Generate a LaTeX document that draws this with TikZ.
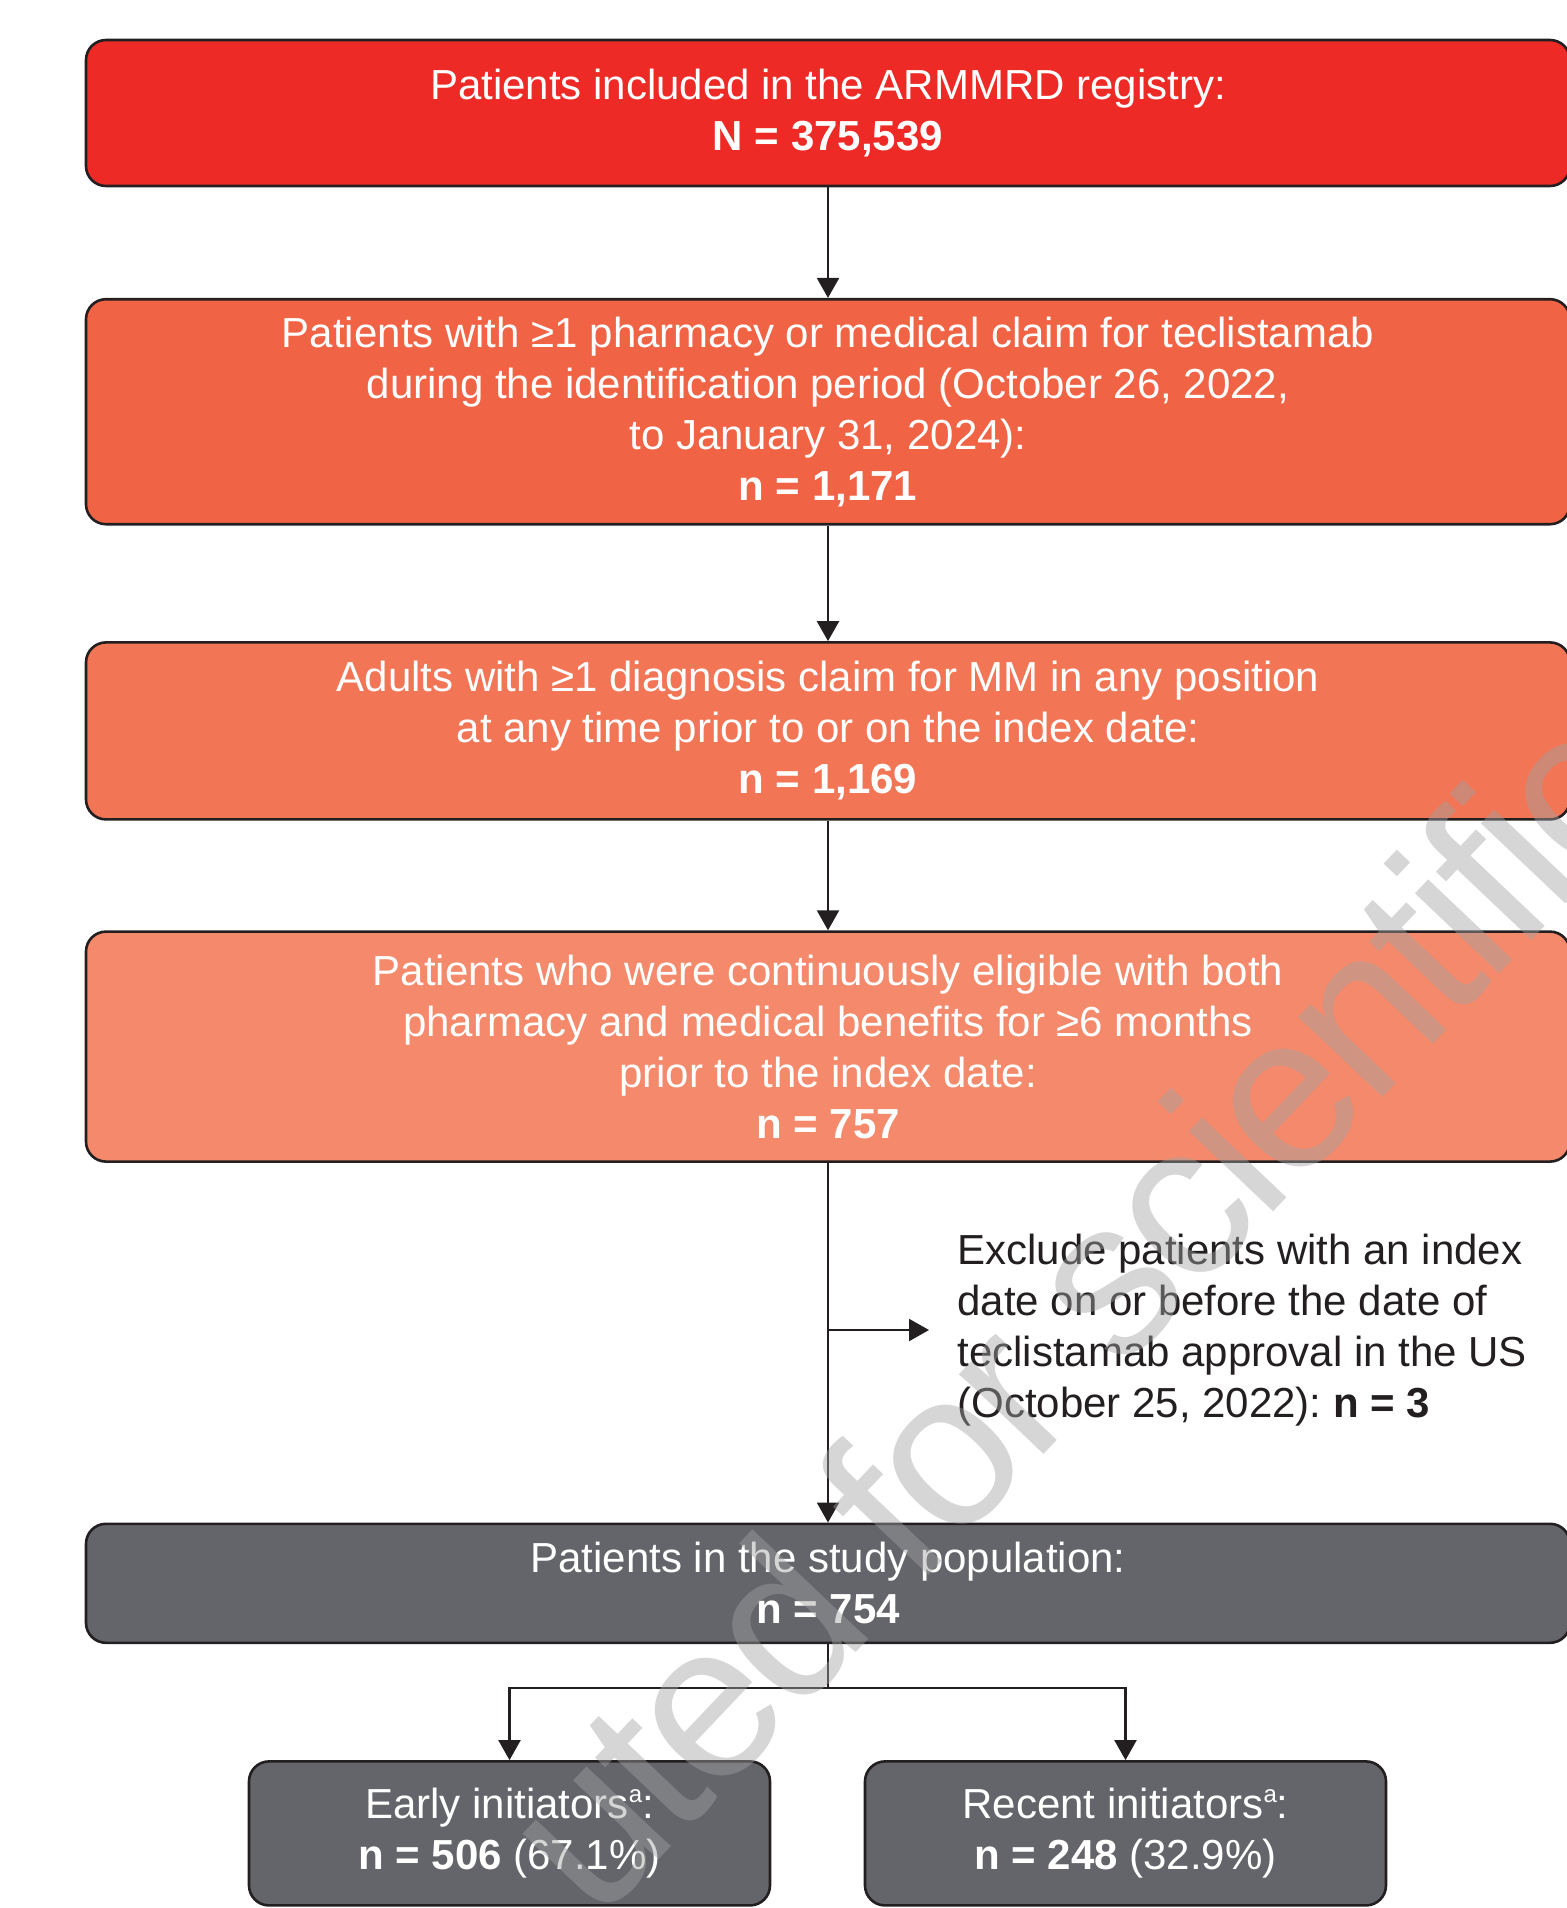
\documentclass[tikz,border=0pt]{standalone}
\usepackage{fontspec}
\setmainfont{Liberation Sans}
\newfontfamily\wmfont{Liberation Sans}[LetterSpace=-3]
\usetikzlibrary{positioning,arrows.meta}
\frenchspacing
\definecolor{regred}{RGB}{237,42,37}
\definecolor{claimor}{RGB}{241,99,69}
\definecolor{diagor}{RGB}{242,117,86}
\definecolor{eligor}{RGB}{244,138,107}
\definecolor{popgray}{RGB}{100,101,106}
\definecolor{edge}{RGB}{35,31,32}
\definecolor{wmgray}{RGB}{161,161,161}
\newcommand{\supa}{\raisebox{0.75ex}{\fontsize{12pt}{12pt}\selectfont a}}

\begin{document}
\begin{tikzpicture}[
  x=0.5pt, y=-0.5pt,
  >={Triangle[width=11pt,length=10pt]},
  node distance=57.5pt and 10pt,
  box/.style={rectangle, rounded corners=10pt, draw=edge, line width=1.3pt, text=white, align=center, inner sep=0pt, minimum width=742pt, font=\fontsize{21pt}{25.5pt}\selectfont},
  sub/.style={box, minimum width=260.5pt, minimum height=72pt, fill=popgray},
  note/.style={align=left, text=edge, inner sep=0pt, font=\fontsize{21pt}{25.5pt}\selectfont},
  link/.style={->, draw=edge, line width=1.1pt},
  wm/.style={text=wmgray, text opacity=0.44, inner sep=0pt, font=\wmfont\fontsize{110pt}{110pt}\selectfont}
]
\useasboundingbox (0,0) rectangle (1567,1908);
\node[box, fill=regred, minimum height=73pt] (reg) at (828,113) {Patients included in the ARMMRD registry:\\ \textbf{N = 375,539}};
\node[box, fill=claimor, minimum height=112.5pt, below=55.3pt of reg] (claim) {Patients with ≥1 pharmacy or medical claim for teclistamab\\ during the identification period (October 26, 2022,\\ to January 31, 2024):\\ \textbf{n = 1,171}};
\node[box, fill=diagor, minimum height=88.5pt, below=57.8pt of claim] (diag) {Adults with ≥1 diagnosis claim for MM in any position\\ at any time prior to or on the index date:\\ \textbf{n = 1,169}};
\node[box, fill=eligor, minimum height=115pt, below=54.8pt of diag] (elig) {Patients who were continuously eligible with both\\ pharmacy and medical benefits for ≥6 months\\ prior to the index date:\\ \textbf{n = 757}};
\node[box, fill=popgray, minimum height=59.5pt, below=179.8pt of elig] (pop) {Patients in the study population:\\ \textbf{n = 754}};
\node[note, anchor=west] (excl) at (957,1330) {Exclude patients with an index\\ date on or before the date of\\ teclistamab approval in the US\\ (October 25, 2022): \textbf{n = 3}};
\node[sub, below=58pt of pop, xshift=-159.25pt] (early) {Early initiators\supa:\\ \textbf{n = 506} (67.1\%)};
\node[sub, below=58pt of pop, xshift=148.75pt] (recent) {Recent initiators\supa:\\ \textbf{n = 248} (32.9\%)};
\draw[link] (reg) -- (claim);
\draw[link] (claim) -- (diag);
\draw[link] (diag) -- (elig);
\draw[link] (elig) -- (pop);
\draw[link, shorten >=14pt] (elig.south |- excl.west) -- (excl.west);
\draw[draw=edge, line width=1.1pt] (pop.south) -- ++(0,-22pt) coordinate (fork);
\draw[link] (fork) -| (early.north);
\draw[link] (fork) -| (recent.north);
% watermark
\begin{scope}
\clip (0,0) rectangle (1567,1908);
\node[wm, rotate=46.5, anchor=base west] (mark) at (597,1925) {uted for scientific};
\end{scope}
\end{tikzpicture}
\end{document}
